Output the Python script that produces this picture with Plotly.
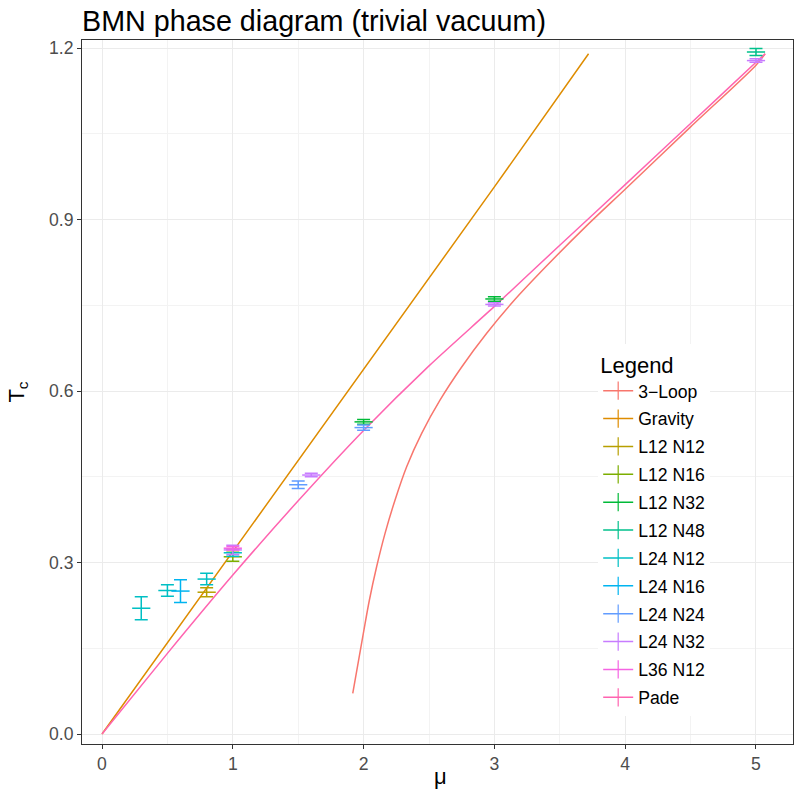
import plotly.graph_objects as go

# ---------------- data ----------------
loop3_mu = [1.917, 1.998, 2.044, 2.100, 2.164, 2.240, 2.330, 2.444, 2.584, 2.750, 2.941, 3.145,
            3.4, 3.7, 4.0, 4.5, 5.0, 5.07]
loop3_T = [0.071, 0.176, 0.234, 0.293, 0.351, 0.409, 0.468, 0.526, 0.584, 0.642, 0.701, 0.757,
           0.819, 0.888, 0.953, 1.062, 1.170, 1.19]

gravity_mu = [0.0, 1.0, 2.0, 3.0, 3.72]
gravity_T = [0.0, 0.319, 0.638, 0.957, 1.19]

pade_mu = [0.0, 0.5, 1.0, 1.5, 2.0, 2.5, 3.0, 3.5, 4.0, 4.5, 5.0, 5.07]
pade_T = [0.0, 0.141, 0.278, 0.408, 0.531, 0.644, 0.748, 0.855, 0.961, 1.068, 1.175, 1.19]

series_names = ["L12 N12", "L12 N16", "L12 N32", "L12 N48", "L24 N12",
                "L24 N16", "L24 N24", "L24 N32", "L36 N12"]
series_mu = {
    "L12 N12": [0.8],
    "L12 N16": [1.0],
    "L12 N32": [2.0, 3.0],
    "L12 N48": [5.0],
    "L24 N12": [0.3, 0.5, 0.8, 1.0],
    "L24 N16": [0.6],
    "L24 N24": [1.5, 2.0],
    "L24 N32": [1.0, 1.6, 3.0, 5.0],
    "L36 N12": [1.0],
}
series_T = {
    "L12 N12": [0.248],
    "L12 N16": [0.310],
    "L12 N32": [0.546, 0.761],
    "L12 N48": [1.193],
    "L24 N12": [0.220, 0.251, 0.271, 0.317],
    "L24 N16": [0.250],
    "L24 N24": [0.436, 0.536],
    "L24 N32": [0.322, 0.453, 0.7515, 1.178],
    "L36 N12": [0.325],
}
series_err = {
    "L12 N12": [0.008],
    "L12 N16": [0.008],
    "L12 N32": [0.004, 0.004],
    "L12 N48": [0.006],
    "L24 N12": [0.020, 0.010, 0.010, 0.006],
    "L24 N16": [0.020],
    "L24 N24": [0.0065, 0.0045],
    "L24 N32": [0.008, 0.003, 0.003, 0.003],
    "L36 N12": [0.003],
}

legend_names = ["3\u2212Loop", "Gravity"] + series_names + ["Pade"]
colors = ["#F8766D", "#DE8C00", "#B79F00", "#7CAE00", "#00BA38", "#00C08B",
          "#00BFC4", "#00B4F0", "#619CFF", "#C77CFF", "#F564E3", "#FF64B0"]
col = dict(zip(legend_names, colors))

fig = go.Figure()

# curves
fig.add_trace(go.Scatter(x=loop3_mu, y=loop3_T, mode="lines", showlegend=False,
                         line=dict(color=col["3\u2212Loop"], width=1.5, shape="spline", smoothing=0.8)))
fig.add_trace(go.Scatter(x=gravity_mu, y=gravity_T, mode="lines", showlegend=False,
                         line=dict(color=col["Gravity"], width=1.5)))
fig.add_trace(go.Scatter(x=pade_mu, y=pade_T, mode="lines", showlegend=False,
                         line=dict(color=col["Pade"], width=1.5, shape="spline", smoothing=0.6)))

# error bars
for name in series_names:
    c = col[name]
    fig.add_trace(go.Scatter(
        x=series_mu[name], y=series_T[name], mode="markers", showlegend=False,
        marker=dict(symbol="line-ew", size=13, color=c, line=dict(color=c, width=1.5)),
        error_y=dict(type="data", array=series_err[name], visible=True,
                     color=c, thickness=1.5, width=6.5)))

# legend entries
for i, name in enumerate(legend_names):
    c = col[name]
    fig.add_trace(go.Scatter(
        x=[None], y=[None], mode="lines+markers", name=name, legendgroup=str(i),
        line=dict(color=c, width=1.5),
        marker=dict(symbol="line-ns", size=13, color=c, line=dict(color=c, width=1.2))))

grid = "#EBEBEB"
fig.update_layout(
    width=794, height=792,
    margin=dict(l=82, r=1, t=40, b=48),
    paper_bgcolor="white", plot_bgcolor="white",
    font=dict(family="Liberation Sans, Arial, sans-serif", color="black"),
    title=dict(text="BMN phase diagram (trivial vacuum)", x=82 / 794, xref="container",
               xanchor="left", y=1 - 21 / 792, yref="container", yanchor="middle",
               font=dict(size=28.7, color="black"), automargin=False),
    showlegend=True,
    legend=dict(x=0.726, y=0.568, xanchor="left", yanchor="top",
                bgcolor="white", font=dict(size=17.6, color="black"),
                title=dict(text="Legend", font=dict(size=22, color="black")),
                tracegroupgap=2, itemwidth=30),
    xaxis=dict(range=[-0.153, 5.283], tickvals=[0, 1, 2, 3, 4, 5],
               automargin=False,
               showgrid=True, gridcolor=grid, gridwidth=1.2,
               minor=dict(tickvals=[0.5, 1.5, 2.5, 3.5, 4.5], showgrid=True,
                          gridcolor="#F3F3F3", gridwidth=0.6),
               zeroline=False, showline=True, linecolor="#333333", linewidth=1, mirror=True,
               ticks="outside", ticklen=4, tickcolor="#333333",
               tickfont=dict(size=17.6, color="#4D4D4D")),
    yaxis=dict(range=[-0.0175, 1.214], tickvals=[0, 0.3, 0.6, 0.9, 1.2],
               ticktext=["0.0", "0.3", "0.6", "0.9", "1.2"],
               automargin=False,
               showgrid=True, gridcolor=grid, gridwidth=1.2,
               minor=dict(tickvals=[0.15, 0.45, 0.75, 1.05], showgrid=True,
                          gridcolor="#F3F3F3", gridwidth=0.6),
               zeroline=False, showline=True, linecolor="#333333", linewidth=1, mirror=True,
               ticks="outside", ticklen=4, tickcolor="#333333",
               tickfont=dict(size=17.6, color="#4D4D4D"),
               title=dict(text="T<sub>c</sub>", font=dict(size=22, color="black"), standoff=18)),
    annotations=[dict(text="\u03bc", xref="paper", yref="paper", x=0.504, y=-32 / 704,
                      xanchor="center", yanchor="middle", showarrow=False,
                      font=dict(size=22, color="black"))],
)

fig.write_html("out.html", config={"displayModeBar": False},
               post_script="document.body.style.margin='0';")
